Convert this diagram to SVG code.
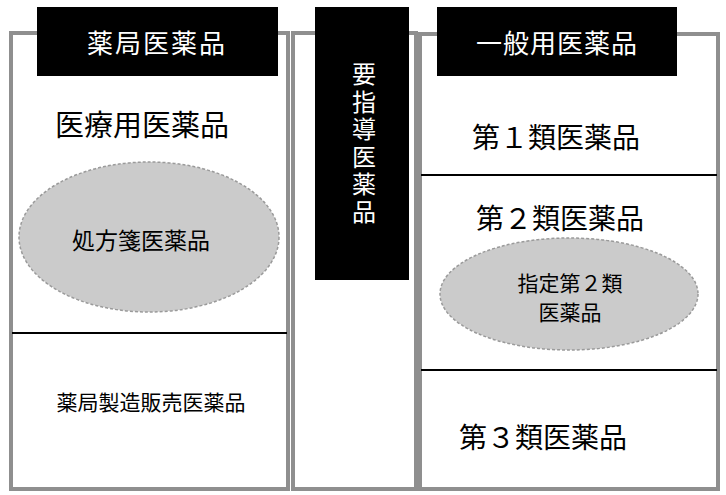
<svg xmlns="http://www.w3.org/2000/svg" width="726" height="495" viewBox="0 0 726 495">
<style>
text{font-family:"Noto Sans CJK JP","Noto Sans CJK SC",sans-serif;text-anchor:middle;fill:#000}
.frame{fill:#fff;stroke:#8f8f8f;stroke-width:4}
.head{fill:#000}
.ht{fill:#fff;font-size:26px}
.big{font-size:28px}
.mid{font-size:21px}
.div{stroke:#000;stroke-width:2}
.ell{fill:#cbcbcb;stroke:#9a9a9a;stroke-width:1.5;stroke-dasharray:3 2}
</style>
<rect width="726" height="495" fill="#fff"/>
<g id="pharmacy">
<rect class="frame" x="11" y="33" width="277" height="456"/>
<line class="div" x1="12" y1="333" x2="287" y2="333"/>
<rect class="head" x="37" y="7" width="241" height="69"/>
<text class="ht" x="157" y="53" letter-spacing="2">薬局医薬品</text>
<text class="big" x="142" y="136" style="font-size:29px">医療用医薬品</text>
<text class="mid" x="151" y="410">薬局製造販売医薬品</text>
</g>
<g id="prescription">
<ellipse class="ell" cx="149" cy="237" rx="130" ry="75"/>
<text class="mid" x="141" y="249" style="font-size:23px">処方箋医薬品</text>
</g>
<g id="guidance">
<rect class="frame" x="293" y="33" width="123" height="456"/>
<rect class="head" x="315" y="7" width="94" height="273"/>
<text class="ht" x="364" y="62" style="writing-mode:vertical-rl;text-anchor:start;font-size:24px" letter-spacing="3.5">要指導医薬品</text>
</g>
<g id="otc">
<rect class="frame" x="420" y="34" width="298" height="455"/>
<line class="div" x1="421" y1="175" x2="717" y2="175"/>
<line class="div" x1="421" y1="370" x2="717" y2="370"/>
<rect class="head" x="437" y="7" width="240" height="69"/>
<text class="ht" x="557" y="53" letter-spacing="1">一般用医薬品</text>
<text class="big" x="556" y="148">第１類医薬品</text>
<text class="big" x="560" y="229">第２類医薬品</text>
<text class="big" x="543" y="448">第３類医薬品</text>
</g>
<g id="designated2">
<ellipse class="ell" cx="569" cy="294" rx="129" ry="56"/>
<text class="mid" x="570" y="291">指定第２類</text>
<text class="mid" x="570" y="320">医薬品</text>
</g>
<g id="connectors"></g>
</svg>
